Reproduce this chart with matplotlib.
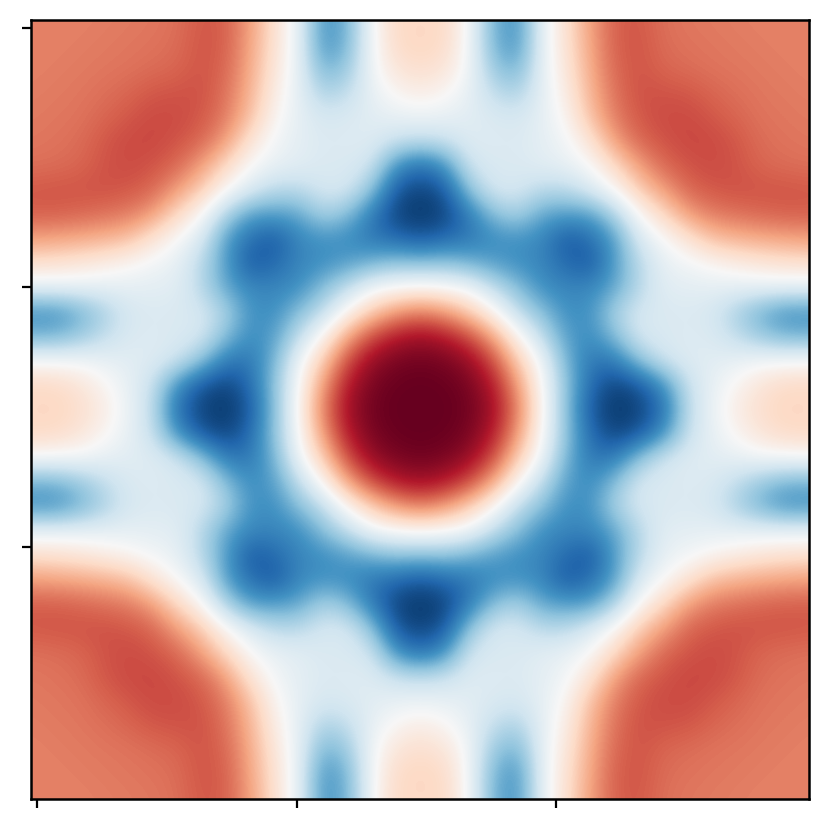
#!/usr/bin/env python3
"""Heatmap with eight-fold symmetry, smooth RdBu_r field, bare ticks."""
import numpy as np
import matplotlib
matplotlib.use("Agg")
import matplotlib.pyplot as plt

# one octant: row i holds columns i..16, distance from centre grows with index
octant = [
    [1.00, 1.00, 0.97, 0.85, 0.50, 0.03, -0.42, -0.85, -0.97, -0.93, -0.75, -0.25, -0.06, 0.08, 0.17, 0.22, 0.20],
    [0.99, 0.95, 0.80, 0.42, 0.00, -0.40, -0.78, -0.93, -0.85, -0.60, -0.22, -0.08, 0.03, 0.13, 0.19, 0.20],
    [0.88, 0.65, 0.25, -0.05, -0.47, -0.72, -0.70, -0.40, -0.20, -0.13, -0.11, -0.08, -0.03, -0.02, -0.01],
    [0.38, 0.03, -0.25, -0.55, -0.63, -0.42, -0.17, -0.15, -0.13, -0.15, -0.25, -0.38, -0.47, -0.48],
    [-0.25, -0.42, -0.62, -0.60, -0.32, -0.17, -0.15, -0.14, -0.17, -0.32, -0.48, -0.60, -0.60],
    [-0.62, -0.66, -0.65, -0.52, -0.27, -0.11, -0.10, -0.09, -0.09, -0.08, -0.08, -0.08],
    [-0.78, -0.85, -0.55, -0.27, -0.08, -0.03, 0.03, 0.08, 0.12, 0.15, 0.16],
    [-0.75, -0.55, -0.14, 0.00, 0.14, 0.30, 0.35, 0.38, 0.40, 0.42],
    [-0.30, 0.02, 0.20, 0.42, 0.52, 0.55, 0.58, 0.60, 0.60],
    [0.25, 0.42, 0.58, 0.62, 0.64, 0.63, 0.63, 0.62],
    [0.58, 0.63, 0.66, 0.63, 0.58, 0.56, 0.55],
    [0.67, 0.66, 0.62, 0.56, 0.54, 0.53],
    [0.62, 0.58, 0.54, 0.53, 0.52],
    [0.55, 0.53, 0.52, 0.51],
    [0.52, 0.51, 0.50],
    [0.50, 0.50],
    [0.50],
]
ticks = [0, 100, 200]

n = len(octant)
q = np.zeros((n, n))
for i, row in enumerate(octant):
    q[i, i:] = row
    q[i:, i] = row
field = np.hstack([q[:, :0:-1], q])
field = np.vstack([field[:0:-1], field])

xlim = (-2.3, 297.3)
ylim = (297.0, -3.0)
step = (xlim[1] - xlim[0]) / 2 / (n - 1)
extent = (xlim[0] - step / 2, xlim[1] + step / 2, ylim[0] + step / 2, ylim[1] - step / 2)

fig = plt.figure(figsize=(8.3, 8.3), dpi=100)
ax = fig.add_axes([31 / 830, 31 / 830, 778 / 830, 779 / 830])
ax.imshow(field, cmap="RdBu_r", vmin=-1, vmax=1, interpolation="bicubic",
          extent=extent, aspect="auto")
ax.set_xlim(xlim)
ax.set_ylim(ylim)
ax.set_xticks(ticks)
ax.set_yticks(ticks)
ax.set_xticklabels([])
ax.set_yticklabels([])
ax.tick_params(length=6.8, width=1.6)
for s in ax.spines.values():
    s.set_linewidth(1.8)
fig.savefig("out.png", dpi=100)
